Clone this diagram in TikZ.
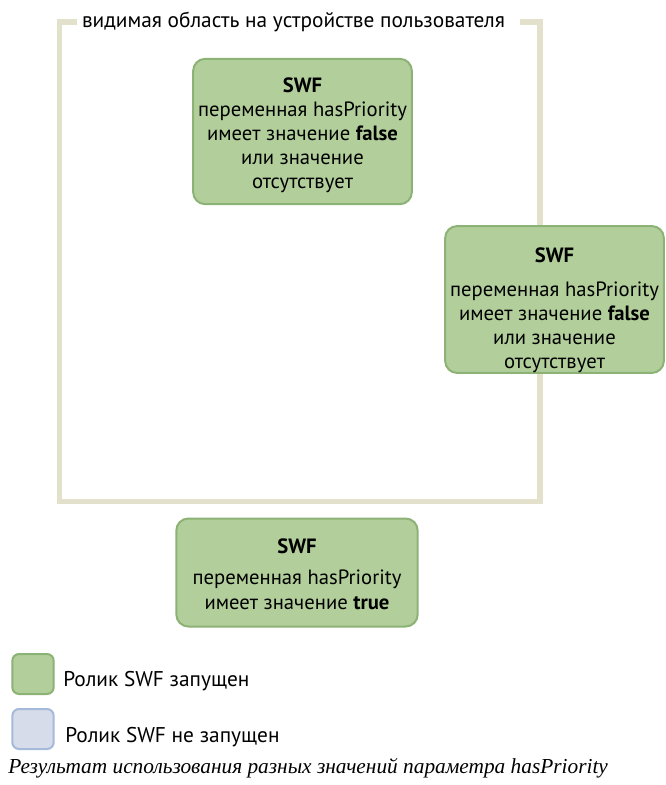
\documentclass[tikz,border=0pt]{standalone}
\usepackage{fontspec}
\setmainfont{PT Sans}
\newfontfamily\captionfont{Liberation Serif}
\definecolor{framebeige}{HTML}{E3E0CC}
\definecolor{swfgreen}{HTML}{B2CF9B}
\definecolor{swfgreenline}{HTML}{8DB275}
\definecolor{swfblue}{HTML}{D6DCEA}
\definecolor{swfblueline}{HTML}{A5B9DA}

\begin{document}
\begin{tikzpicture}[x=0.75pt,y=-0.75pt,
    swfbox/.style={draw=swfgreenline,fill=swfgreen,line width=1.5pt,rounded corners=9pt,
      align=center,font=\fontsize{15.5}{18}\selectfont,inner sep=0pt},
    keybox/.style={line width=1.5pt,rounded corners=5pt,minimum width=31pt,minimum height=30pt,inner sep=0pt},
    keytext/.style={anchor=west,font=\fontsize{16}{18}\selectfont,inner sep=0pt}]
  \useasboundingbox[fill=white] (0,0) rectangle (665,785);
  % visible area
  \node (title) at (293.5,22) [font=\fontsize{16}{18}\selectfont,inner sep=0pt] {видимая область на устройстве пользователя};
  \draw[framebeige,line width=4.2pt] (77,22) -- (59.5,22) -- (59.5,501.5) -- (540,501.5) -- (540,22) -- (520,22);
  \node (swfa) at (302.5,131.5) [swfbox,minimum width=164pt,minimum height=109pt]
    {\rule{0pt}{17pt}\textbf{SWF}\\переменная hasPriority\\имеет значение \textbf{false}\\или значение\\отсутствует};
  \node (swfb) at (554.5,299.5) [swfbox,minimum width=164pt,minimum height=109pt]
    {\rule{0pt}{27pt}\textbf{SWF}\\[8pt]переменная hasPriority\\имеет значение \textbf{false}\\или значение\\отсутствует};
  \node (swfc) at (297,572.5) [swfbox,minimum width=181pt,minimum height=81pt]
    {\rule{0pt}{14pt}\textbf{SWF}\\[5pt]переменная hasPriority\\[0.8pt]имеет значение \textbf{true}};
  % legend
  \node (keyon) at (33,674) [keybox,draw=swfgreenline,fill=swfgreen] {};
  \node (keyoff) at (33,729) [keybox,draw=swfblueline,fill=swfblue] {};
  \node (keyontext) at (63,681) [keytext] {Ролик SWF запущен};
  \node (keyofftext) at (65,737) [keytext] {Ролик SWF не запущен};
  \node (caption) at (8,768) [anchor=west,inner sep=0pt,font=\captionfont\itshape\fontsize{16}{18}\selectfont]
    {Результат использования разных значений параметра hasPriority};
\end{tikzpicture}
\end{document}
